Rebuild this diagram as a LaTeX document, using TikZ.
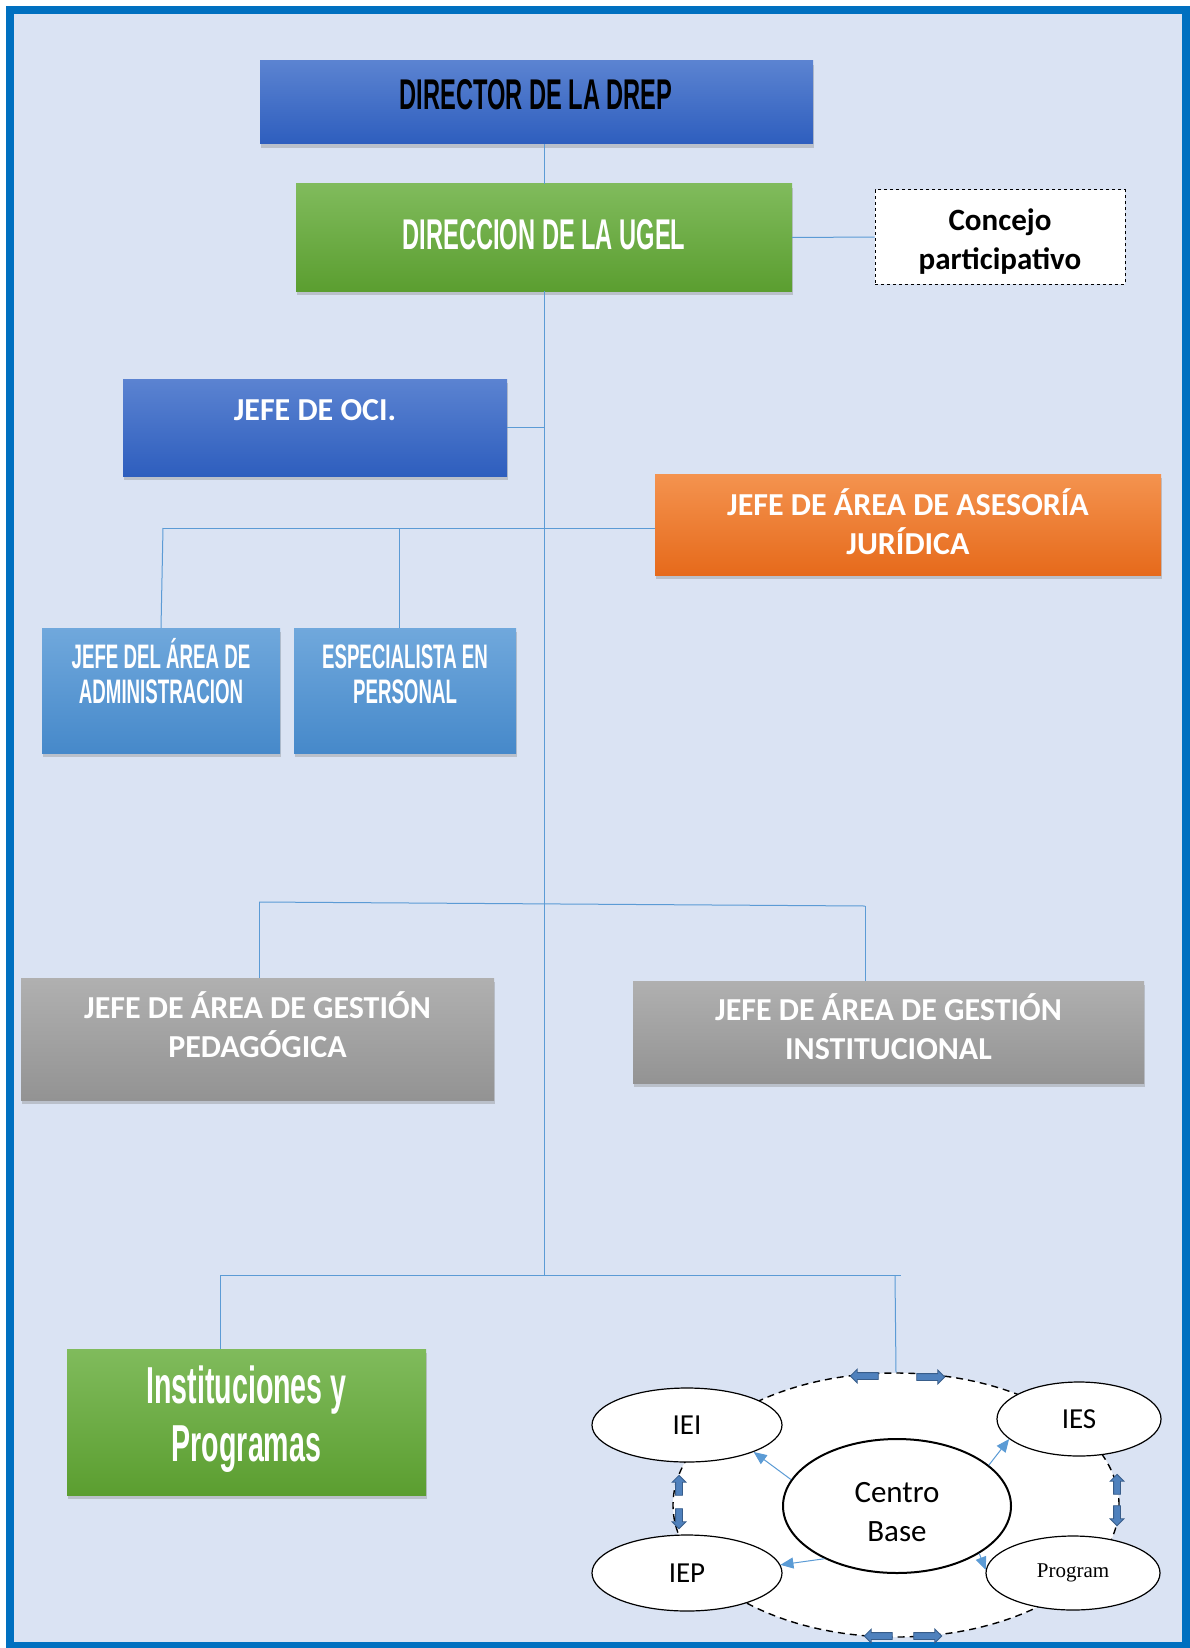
\documentclass[tikz,border=0pt]{standalone}
\usepackage{fontspec}
\setmainfont{Carlito}
\newfontfamily\agency[FakeStretch=0.55]{Liberation Sans}
\newfontfamily\tnr{Liberation Serif}
\usetikzlibrary{shapes.geometric,shapes.arrows,shadows,arrows.meta}

\definecolor{fondo}{HTML}{DAE3F3}
\definecolor{marco}{HTML}{0070C0}
\definecolor{linea}{HTML}{5B9BD5}
\definecolor{azulA}{HTML}{5B83D1}
\definecolor{azulB}{HTML}{2E5EBE}
\definecolor{verdeA}{HTML}{80BB5C}
\definecolor{verdeB}{HTML}{5B9E30}
\definecolor{naranjaA}{HTML}{F4934F}
\definecolor{naranjaB}{HTML}{E66A1B}
\definecolor{celesteA}{HTML}{70A8DC}
\definecolor{celesteB}{HTML}{4689CA}
\definecolor{grisA}{HTML}{B0B0B0}
\definecolor{grisB}{HTML}{939393}
\definecolor{flecha}{HTML}{4F81BD}
\definecolor{flechaB}{HTML}{385D8A}

\begin{document}
\begin{tikzpicture}[x=1pt,y=-1pt]
		\tikzstyle{cargo}=[rectangle,inner sep=0,drop shadow={shadow xshift=1pt,shadow yshift=-4pt,opacity=.35}]
		\tikzstyle{azul}=[cargo,top color=azulA,bottom color=azulB]
		\tikzstyle{verde}=[cargo,top color=verdeA,bottom color=verdeB]
		\tikzstyle{naranja}=[cargo,top color=naranjaA,bottom color=naranjaB]
		\tikzstyle{celeste}=[cargo,top color=celesteA,bottom color=celesteB]
		\tikzstyle{gris}=[cargo,top color=grisA,bottom color=grisB]
		\tikzstyle{rotulo}=[align=center,inner sep=0,text=white,font=\bfseries\fontsize{32}{39}\selectfont]
		\tikzstyle{titulo}=[align=center,inner sep=0,text=white,font=\agency\bfseries\fontsize{34}{35}\selectfont]
		\tikzstyle{ovalo}=[ellipse,draw,fill=white,inner sep=0,line width=1.2pt,font=\fontsize{29}{35}\selectfont]
		\tikzstyle{rama}=[draw=linea,line width=1pt]
		\tikzstyle{rel}=[draw=linea,line width=1pt,-{Triangle[length=13pt,width=11pt]}]
		\tikzstyle{bloque}=[single arrow,draw=flechaB,fill=flecha,minimum height=28pt,single arrow head extend=3.5pt,inner sep=3pt,line width=.8pt]

		\useasboundingbox (0,0) rectangle (1190,1648);
		\fill[fondo] (10,10.5) rectangle (1186,1646);
		\draw[marco,line width=8pt] (10,10.5) rectangle (1186,1646);

		\node[azul,minimum width=553,minimum height=83] (drep) at (536.5,102.5) {};
		\node[titulo,text=black,font=\agency\bfseries\fontsize{43}{44}\selectfont] (drept) at (536,95) {DIRECTOR DE LA DREP};

		\node[verde,minimum width=496,minimum height=107] (ugel) at (544,237.5) {};
		\node[titulo,font=\agency\bfseries\fontsize{43}{46}\selectfont] (ugelt) at (544,235) {DIRECCION DE LA UGEL};

		\node[draw,dashed,fill=white,line width=1pt,minimum width=250,minimum height=94] (concejo) at (1000,237) {};
		\node[rotulo,text=black,font=\bfseries\fontsize{31}{39}\selectfont] (concejot) at (1000,242) {Concejo\\participativo};

		\node[azul,minimum width=384,minimum height=97] (oci) at (315,427.5) {};
		\node[rotulo] (ocit) at (315,410) {JEFE DE OCI.};

		\node[naranja,minimum width=506,minimum height=101] (juridica) at (908,524.5) {};
		\node[rotulo] (juridicat) at (908,522) {JEFE DE ÁREA DE ASESORÍA\\JURÍDICA};

		\node[celeste,minimum width=238,minimum height=125] (admin) at (161,690.5) {};
		\node[titulo] (admint) at (161,671) {JEFE DEL ÁREA DE\\ADMINISTRACION};
		\node[celeste,minimum width=222,minimum height=125] (personal) at (405,690.5) {};
		\node[titulo] (personalt) at (405,674) {ESPECIALISTA EN\\PERSONAL};

		\node[gris,minimum width=473,minimum height=122] (pedag) at (257.5,1039) {};
		\node[rotulo] (pedagt) at (257.5,1025) {JEFE DE ÁREA DE GESTIÓN\\PEDAGÓGICA};
		\node[gris,minimum width=511,minimum height=102] (instit) at (888.5,1032) {};
		\node[rotulo] (institt) at (888.5,1027) {JEFE DE ÁREA DE GESTIÓN\\INSTITUCIONAL};

		\node[verde,minimum width=359,minimum height=146] (inst) at (246.5,1422) {};
		\node[titulo,font=\agency\bfseries\fontsize{52}{58}\selectfont] (instt) at (246.5,1419) {Instituciones y\\Programas};

		\coordinate (b1l) at (163,528);
		\coordinate (b1m) at (399,528);
		\coordinate (b2l) at (259,902);
		\coordinate (b2r) at (865,906);
		\coordinate (b3l) at (220,1275);
		\coordinate (b3c) at (895,1275);
		\coordinate (b3r) at (901,1275);
		\coordinate (t3) at (544,1275);

		\draw[rama] (drep.south -| ugel.north) -- (ugel.north);
		\draw[rama] (ugel.east) -- (concejo.west);
		\draw[rama] (ugel.south) -- (t3);
		\draw[rama] (oci.east) -- (oci.east -| ugel.south);
		\draw[rama] (b1l) -- (b1l -| juridica.west);
		\draw[rama] (b1l) -- (admin.north);
		\draw[rama] (b1m) -- (b1m |- personal.north);
		\draw[rama] (b2l) -- (b2r);
		\draw[rama] (b2l) -- (b2l |- pedag.north);
		\draw[rama] (b2r) -- (b2r |- instit.north);
		\draw[rama] (b3l) -- (b3r);
		\draw[rama] (b3l) -- (b3l |- inst.north);

		\node[ovalo,dash pattern=on 7pt off 5pt,line width=1.4pt,minimum width=446,minimum height=264] (ring) at (896,1505) {};
		\draw[rama] (b3c) -- (ring.north);
		\node[ovalo,minimum width=190,minimum height=74] (iei) at (687,1425) {IEI};
		\node[ovalo,minimum width=164,minimum height=74] (ies) at (1079,1419) {IES};
		\node[ovalo,minimum width=190,minimum height=76] (iep) at (687,1573) {IEP};
		\node[ovalo,minimum width=174,minimum height=74,font=\tnr\fontsize{21}{25}\selectfont] (prog) at (1073,1573) {Program};
		\node[ovalo,line width=2pt,minimum width=228,minimum height=134] (centro) at (897,1506) {};
		\node[align=center,inner sep=0,font=\fontsize{31}{39}\selectfont] (centrot) at (897,1512) {Centro\\Base};

		\draw[rel] (centro.166) -- (iei.-22);
		\draw[rel] (centro.24) -- (ies.196);
		\draw[rel] (centro.216) -- (iep.5);
		\draw[rel] (centro.-30) -- (prog.178);

		\node[bloque,shape border rotate=180] (fa1) at (866,1376) {};
		\node[bloque] (fa2) at (929,1377) {};
		\node[bloque,shape border rotate=180] (fa3) at (880,1636) {};
		\node[bloque] (fa4) at (926,1636) {};
		\node[bloque,shape border rotate=90,minimum height=20pt] (fa5) at (679,1487) {};
		\node[bloque,shape border rotate=270,minimum height=20pt] (fa6) at (679,1517) {};
		\node[bloque,shape border rotate=90,minimum height=20pt] (fa7) at (1117,1486) {};
		\node[bloque,shape border rotate=270,minimum height=20pt] (fa8) at (1117,1514) {};
	\end{tikzpicture}
\end{document}
